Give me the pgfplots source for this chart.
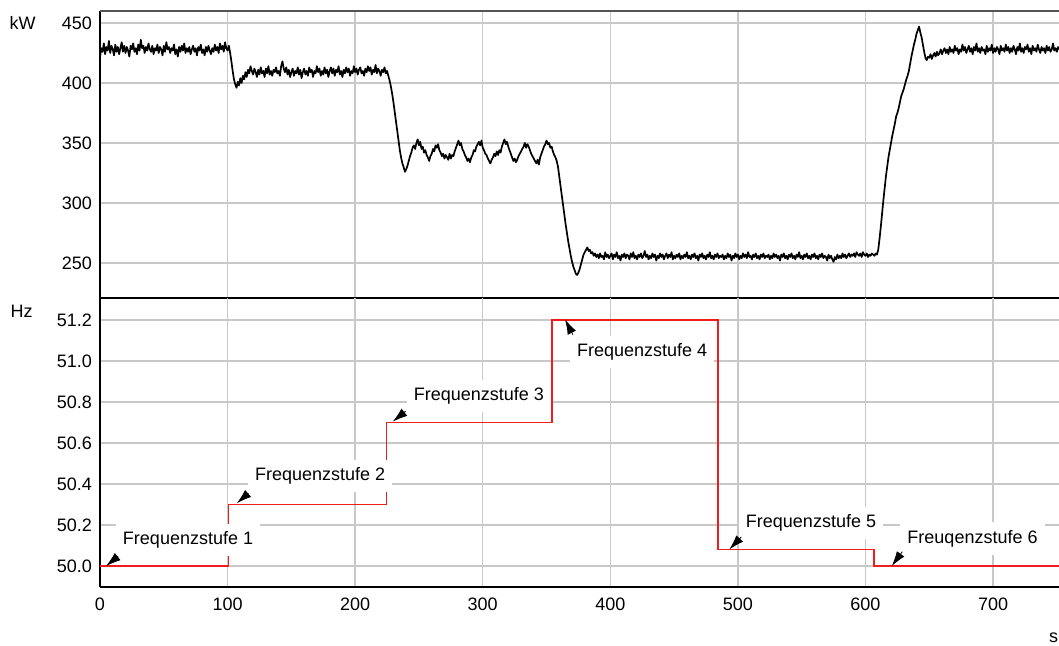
\documentclass[border=0pt]{standalone}
\usepackage{fontspec}
\setmainfont{Liberation Sans}
\usepackage{pgfplots}
\pgfplotsset{compat=1.18}
\usetikzlibrary{arrows.meta}

\definecolor{gridgray}{RGB}{200,200,200}
\definecolor{framegray}{RGB}{85,85,85}
\definecolor{stepred}{RGB}{238,30,30}

\pgfplotsset{
  common/.style={
    scale only axis, width=479.5pt,
    xmin=0, xmax=751.7,
    xtick={0,100,...,700},
    grid=major, grid style={gridgray, line width=0.7pt},
    major tick length=0pt,
    tick label style={font=\fontsize{9}{10}\selectfont},
    /pgf/number format/assume math mode=true,
    axis x line=bottom, axis y line=left,
    axis line style={line width=1pt, -},
    yticklabel style={xshift=-0.5pt},
  },
}
\tikzset{
  stufe/.style={fill=white, inner xsep=3.5pt, inner ysep=4pt,
    font=\fontsize{9}{10}\selectfont},
  pfeil/.style={-{Latex[length=7.5pt,width=4.6pt]}, line width=0.4pt, black},
}

% Wirkleistung (kW), 1-s-Werte
\pgfplotstableread[row sep=\\]{
t P\\
0 421\\1 429\\2 426\\3 433\\4 424\\5 430\\6 427\\7 435\\8 425\\9 431\\
10 428\\11 423\\12 432\\13 426\\14 430\\15 424\\16 429\\17 434\\18 426\\19 431\\
20 425\\21 430\\22 427\\23 422\\24 431\\25 428\\26 433\\27 426\\28 429\\29 424\\
30 432\\31 427\\32 436\\33 429\\34 431\\35 425\\36 430\\37 427\\38 433\\39 428\\
40 426\\41 431\\42 424\\43 429\\44 427\\45 432\\46 425\\47 430\\48 428\\49 423\\
50 431\\51 426\\52 434\\53 428\\54 430\\55 425\\56 429\\57 427\\58 432\\59 424\\
60 428\\61 422\\62 430\\63 426\\64 431\\65 427\\66 433\\67 425\\68 429\\69 426\\
70 430\\71 424\\72 428\\73 431\\74 426\\75 429\\76 423\\77 430\\78 427\\79 432\\
80 425\\81 428\\82 423\\83 430\\84 426\\85 431\\86 427\\87 424\\88 429\\89 426\\
90 432\\91 427\\92 430\\93 425\\94 433\\95 428\\96 431\\97 426\\98 434\\99 429\\
100 427\\101 431\\102 425\\103 418\\104 410\\105 403\\106 399\\107 396\\108 401\\109 398\\
110 404\\111 400\\112 406\\113 403\\114 409\\115 405\\116 411\\117 408\\118 414\\119 410\\
120 407\\121 412\\122 409\\123 405\\124 411\\125 407\\126 413\\127 408\\128 410\\129 405\\
130 412\\131 408\\132 414\\133 407\\134 410\\135 406\\136 411\\137 409\\138 413\\139 408\\
140 410\\141 406\\142 414\\143 418\\144 412\\145 409\\146 413\\147 407\\148 411\\149 405\\
150 409\\151 412\\152 406\\153 410\\154 408\\155 413\\156 407\\157 411\\158 404\\159 409\\
160 412\\161 407\\162 410\\163 406\\164 413\\165 409\\166 411\\167 405\\168 410\\169 408\\
170 414\\171 409\\172 412\\173 406\\174 410\\175 407\\176 413\\177 408\\178 411\\179 405\\
180 410\\181 413\\182 408\\183 412\\184 406\\185 411\\186 409\\187 414\\188 407\\189 410\\
190 405\\191 411\\192 408\\193 413\\194 409\\195 412\\196 406\\197 410\\198 408\\199 414\\
200 409\\201 412\\202 407\\203 411\\204 413\\205 408\\206 410\\207 406\\208 412\\209 409\\
210 414\\211 410\\212 413\\213 407\\214 411\\215 409\\216 415\\217 408\\218 412\\219 410\\
220 406\\221 411\\222 409\\223 413\\224 408\\225 410\\226 406\\227 402\\228 397\\229 391\\
230 384\\231 376\\232 368\\233 360\\234 352\\235 344\\236 338\\237 333\\238 330\\239 326\\
240 328\\241 331\\242 335\\243 339\\244 342\\245 346\\246 348\\247 345\\248 350\\249 353\\
250 348\\251 351\\252 345\\253 347\\254 342\\255 344\\256 340\\257 338\\258 335\\259 339\\
260 341\\261 345\\262 343\\263 348\\264 346\\265 349\\266 344\\267 342\\268 339\\269 341\\
270 337\\271 340\\272 338\\273 336\\274 341\\275 337\\276 340\\277 339\\278 343\\279 346\\
280 349\\281 352\\282 348\\283 350\\284 345\\285 343\\286 340\\287 338\\288 335\\289 337\\
290 334\\291 338\\292 340\\293 344\\294 343\\295 347\\296 349\\297 351\\298 348\\299 352\\
300 346\\301 344\\302 341\\303 340\\304 337\\305 335\\306 333\\307 336\\308 338\\309 341\\
310 339\\311 343\\312 340\\313 344\\314 342\\315 347\\316 350\\317 353\\318 349\\319 351\\
320 347\\321 344\\322 341\\323 338\\324 335\\325 337\\326 334\\327 336\\328 339\\329 341\\
330 343\\331 345\\332 347\\333 350\\334 346\\335 349\\336 347\\337 344\\338 341\\339 339\\
340 337\\341 335\\342 333\\343 336\\344 332\\345 338\\346 341\\347 344\\348 347\\349 349\\
350 352\\351 349\\352 350\\353 346\\354 347\\355 343\\356 340\\357 338\\358 335\\359 330\\
360 322\\361 314\\362 306\\363 298\\364 290\\365 282\\366 275\\367 268\\368 262\\369 256\\
370 251\\371 247\\372 244\\373 241\\374 240\\375 242\\376 245\\377 249\\378 253\\379 257\\
380 259\\381 261\\382 263\\383 260\\384 261\\385 258\\386 259\\387 256\\388 258\\389 255\\
390 257\\391 254\\392 258\\393 255\\394 256\\395 253\\396 259\\397 255\\398 257\\399 254\\
400 256\\401 258\\402 253\\403 257\\404 255\\405 259\\406 254\\407 256\\408 252\\409 257\\
410 255\\411 258\\412 254\\413 257\\414 256\\415 253\\416 258\\417 255\\418 259\\419 254\\
420 256\\421 253\\422 257\\423 255\\424 258\\425 254\\426 256\\427 260\\428 255\\429 257\\
430 253\\431 256\\432 254\\433 258\\434 255\\435 257\\436 252\\437 256\\438 254\\439 258\\
440 255\\441 257\\442 253\\443 256\\444 258\\445 254\\446 257\\447 255\\448 259\\449 253\\
450 256\\451 254\\452 257\\453 255\\454 258\\455 253\\456 256\\457 254\\458 257\\459 255\\
460 259\\461 254\\462 256\\463 253\\464 257\\465 255\\466 258\\467 254\\468 256\\469 252\\
470 257\\471 255\\472 258\\473 254\\474 256\\475 253\\476 257\\477 255\\478 259\\479 254\\
480 256\\481 253\\482 257\\483 255\\484 258\\485 254\\486 256\\487 255\\488 257\\489 253\\
490 256\\491 254\\492 258\\493 255\\494 257\\495 252\\496 256\\497 254\\498 258\\499 255\\
500 257\\501 253\\502 256\\503 254\\504 258\\505 255\\506 257\\507 254\\508 259\\509 255\\
510 256\\511 253\\512 257\\513 255\\514 258\\515 254\\516 256\\517 253\\518 257\\519 255\\
520 258\\521 254\\522 256\\523 255\\524 257\\525 253\\526 256\\527 254\\528 258\\529 255\\
530 257\\531 254\\532 256\\533 252\\534 257\\535 255\\536 258\\537 254\\538 256\\539 253\\
540 257\\541 255\\542 258\\543 254\\544 256\\545 253\\546 257\\547 255\\548 259\\549 254\\
550 256\\551 253\\552 257\\553 255\\554 258\\555 254\\556 256\\557 253\\558 257\\559 255\\
560 258\\561 254\\562 256\\563 253\\564 257\\565 255\\566 258\\567 254\\568 256\\569 255\\
570 252\\571 257\\572 254\\573 256\\574 253\\575 251\\576 255\\577 253\\578 257\\579 254\\
580 256\\581 254\\582 258\\583 255\\584 257\\585 254\\586 256\\587 258\\588 255\\589 257\\
590 256\\591 258\\592 255\\593 259\\594 257\\595 256\\596 258\\597 255\\598 259\\599 257\\
600 256\\601 258\\602 255\\603 257\\604 256\\605 258\\606 257\\607 256\\608 258\\609 257\\
610 261\\611 270\\612 280\\613 291\\614 302\\615 312\\616 322\\617 330\\618 338\\619 344\\
620 350\\621 356\\622 361\\623 366\\624 372\\625 375\\626 379\\627 384\\628 389\\629 392\\
630 395\\631 399\\632 403\\633 406\\634 410\\635 416\\636 422\\637 427\\638 432\\639 436\\
640 441\\641 444\\642 447\\643 442\\644 438\\645 432\\646 426\\647 421\\648 419\\649 422\\
650 421\\651 424\\652 420\\653 423\\654 425\\655 422\\656 426\\657 423\\658 425\\659 428\\
660 424\\661 427\\662 429\\663 425\\664 428\\665 424\\666 430\\667 426\\668 428\\669 425\\
670 431\\671 427\\672 429\\673 424\\674 428\\675 426\\676 432\\677 427\\678 430\\679 425\\
680 428\\681 431\\682 426\\683 429\\684 424\\685 430\\686 427\\687 433\\688 426\\689 429\\
690 425\\691 430\\692 427\\693 428\\694 424\\695 431\\696 426\\697 429\\698 427\\699 432\\
700 425\\701 429\\702 426\\703 430\\704 428\\705 424\\706 431\\707 427\\708 429\\709 426\\
710 432\\711 427\\712 430\\713 425\\714 429\\715 426\\716 431\\717 428\\718 424\\719 430\\
720 427\\721 433\\722 426\\723 429\\724 425\\725 430\\726 428\\727 432\\728 426\\729 429\\
730 424\\731 431\\732 427\\733 429\\734 426\\735 432\\736 428\\737 425\\738 430\\739 427\\
740 429\\741 425\\742 431\\743 427\\744 430\\745 426\\746 428\\747 433\\748 427\\749 429\\
750 426\\751 430\\752 428\\
}\leistung

\begin{document}
\begin{tikzpicture}
\useasboundingbox (0,0) rectangle (529.5pt,323pt);

% Wirkleistung
\begin{axis}[common, at={(50pt,174pt)}, anchor=south west, height=143.5pt,
  ymin=220.83, ymax=460, ytick={250,300,...,450}, xticklabels={}]
\addplot[black, line width=0.85pt, line join=round] table[x=t, y=P] {\leistung};
\draw[framegray, line width=1pt] (rel axis cs:0,1) -- (rel axis cs:1,1);
\end{axis}

% Frequenz
\begin{axis}[common, at={(50pt,174pt)}, anchor=north west, height=144.5pt,
  ymin=49.898, ymax=51.307, ytick={50.0,50.2,...,51.25},
  yticklabel style={/pgf/number format/.cd, fixed, fixed zerofill, precision=1},
  xticklabel style={yshift=-2pt}]
\addplot[stepred, line width=0.75pt] coordinates {
  (0,50.0) (100.6,50.0) (100.6,50.3) (224.5,50.3) (224.5,50.7)
  (354.3,50.7) (354.3,51.2) (484.5,51.2) (484.5,50.08)
  (606.7,50.08) (606.7,50.0) (752,50.0)
};
\node[stufe] at (69,50.127) {Frequenzstufe 1};
\node[stufe] at (172.5,50.439) {Frequenzstufe 2};
\node[stufe] at (297,50.829) {Frequenzstufe 3};
\node[stufe] at (424.9,51.044) {Frequenzstufe 4};
\node[stufe] at (557.3,50.21) {Frequenzstufe 5};
\node[stufe] at (683.9,50.134) {Freuqenzstufe 6};
\draw[pfeil] (14.2,50.048) -- (4.7,50.0);
\draw[pfeil] (116.3,50.355) -- (107.2,50.306);
\draw[pfeil] (239.6,50.755) -- (229.4,50.704);
\draw[pfeil] (370.6,51.128) -- (364.5,51.203);
\draw[pfeil] (502.6,50.142) -- (493.3,50.081);
\draw[pfeil] (628.8,50.07) -- (620.6,50.0);
\end{axis}

\node[font=\fontsize{9}{10}\selectfont] at (11.25pt,311.75pt) {kW};
\node[font=\fontsize{9}{10}\selectfont] at (10.85pt,167.5pt) {Hz};
\node[font=\fontsize{9}{10}\selectfont] at (526.75pt,4.25pt) {s};
\end{tikzpicture}
\end{document}
